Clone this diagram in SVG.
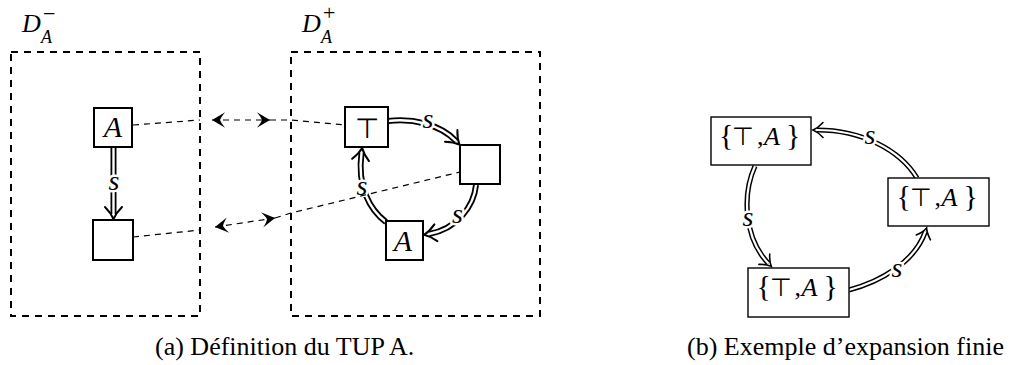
<svg xmlns="http://www.w3.org/2000/svg" width="1013" height="365" viewBox="0 0 1013 365">
<style>
.frame{fill:none;stroke:#000;stroke-width:2;stroke-dasharray:7 6}
.na rect{fill:#fff;stroke:#000;stroke-width:2}
.nb rect{fill:#fff;stroke:#000;stroke-width:1.4}
.mi{font-family:"Liberation Serif",serif;font-style:italic}
.up{font-family:"Liberation Serif",serif}
.sym{font-family:"DejaVu Sans",sans-serif;font-weight:200}
.dao{fill:none;stroke:#000;stroke-width:6;marker-end:url(#impA)}
.dai{fill:none;stroke:#fff;stroke-width:2.4}
.dbo{fill:none;stroke:#000;stroke-width:5.2;marker-end:url(#impB)}
.dbi{fill:none;stroke:#fff;stroke-width:2.2}
.lbl{font-family:"Liberation Serif",serif;font-style:italic;font-size:28px;text-anchor:middle;paint-order:stroke;stroke:#fff;stroke-width:5;stroke-linejoin:round}
.dash{fill:none;stroke:#000;stroke-width:1.2;stroke-dasharray:6 5}
.arr{marker-start:url(#stl);marker-end:url(#stl)}
.cap{font-family:"Liberation Serif",serif;font-size:26px}
</style>
<defs>
<marker id="impA" markerUnits="userSpaceOnUse" markerWidth="30" markerHeight="30" viewBox="-15 -15 30 30" refX="0" refY="0" orient="auto" overflow="visible">
<path d="M-7,-8.5 Q-1,-2.5 5,0 Q-1,2.5 -7,8.5" fill="none" stroke="#000" stroke-width="2" stroke-linecap="round"/>
</marker>
<marker id="impB" markerUnits="userSpaceOnUse" markerWidth="30" markerHeight="30" viewBox="-15 -15 30 30" refX="0" refY="0" orient="auto" overflow="visible">
<path d="M-6,-7.5 Q-1,-2 4,0 Q-1,2 -6,7.5" fill="none" stroke="#000" stroke-width="1.6" stroke-linecap="round"/>
</marker>
<marker id="stl" markerUnits="userSpaceOnUse" markerWidth="20" markerHeight="20" viewBox="-12 -8 16 16" refX="0" refY="0" orient="auto-start-reverse" overflow="visible">
<path d="M0,0 L-10.5,-6.2 Q-7,-2 -6.5,0 Q-7,2 -10.5,6.2 Z" fill="#000"/>
</marker>
</defs>
<rect width="1013" height="365" fill="#fff"/>

<g id="frame-minus">
<rect class="frame" x="11" y="52" width="189" height="264"/>
<text class="mi" x="22" y="32" font-size="26">D</text>
<text class="mi" x="41" y="43" font-size="18">A</text>
<text class="up" x="43" y="21" font-size="22">−</text>
</g>
<g id="frame-plus">
<rect class="frame" x="291" y="52" width="249" height="264"/>
<text class="mi" x="302" y="32" font-size="26">D</text>
<text class="mi" x="321" y="43" font-size="18">A</text>
<text class="up" x="323" y="20" font-size="22">+</text>
</g>

<g id="connectors">
<g id="e-left">
<path class="dao" d="M113.5,147 L113.5,214"/><path class="dai" d="M113.5,147 L113.5,214"/>
<text class="lbl" x="114" y="190">s</text>
</g>
<g id="e-top-right">
<path class="dao" d="M388,121 C412,118 440,124 456,141"/><path class="dai" d="M388,121 C412,118 440,124 456,141"/>
<text class="lbl" x="428" y="128">s</text>
</g>
<g id="e-right-a">
<path class="dao" d="M476,185 C474,206 457,229 429,234"/><path class="dai" d="M476,185 C474,206 457,229 429,234"/>
<text class="lbl" x="457.5" y="223">s</text>
</g>
<g id="e-a-top">
<path class="dao" d="M386,222 C370,210 357,187 361.5,153"/><path class="dai" d="M386,222 C370,210 357,187 361.5,153"/>
<text class="lbl" x="362" y="195">s</text>
</g>
<g id="link1">
<path class="dash" d="M133,125 L200,120"/>
<path class="dash arr" d="M212,120 L270,120"/>
<path class="dash" d="M270,120 L291,120 L345,125"/>
</g>
<g id="link2">
<path class="dash" d="M133,237 L200,230"/>
<path class="dash arr" d="M215,227 L275,218"/>
<path class="dash" d="M275,218 L291,213 L460,172"/>
</g>
<g id="b1">
<path class="dbo" d="M755,166 C742,195 744,238 768.5,263.5"/><path class="dbi" d="M755,166 C742,195 744,238 768.5,263.5"/>
<text class="lbl" x="748" y="226">s</text>
</g>
<g id="b2">
<path class="dbo" d="M849,290 C880,282 915,262 925.3,231.7"/><path class="dbi" d="M849,290 C880,282 915,262 925.3,231.7"/>
<text class="lbl" x="897" y="277">s</text>
</g>
<g id="b3">
<path class="dbo" d="M917,178 C900,150 862,130 817,130"/><path class="dbi" d="M917,178 C900,150 862,130 817,130"/>
<text class="lbl" x="870" y="144">s</text>
</g>
</g>

<g id="n-a-left" class="na"><rect x="94" y="108" width="38" height="39"/><text class="mi" x="113" y="137" font-size="30" text-anchor="middle">A</text></g>
<g id="n-empty-left" class="na"><rect x="93" y="220" width="40" height="40"/></g>
<g id="n-top" class="na"><rect x="345" y="107" width="43" height="40"/><text class="sym" x="366.5" y="138" font-size="28" text-anchor="middle">⊤</text></g>
<g id="n-empty-right" class="na"><rect x="460" y="145" width="40" height="39"/></g>
<g id="n-a-bottom" class="na"><rect x="386" y="221" width="37" height="39"/><text class="mi" x="403" y="251" font-size="30" text-anchor="middle">A</text></g>

<g id="b-n1" class="nb"><rect x="711" y="117" width="100" height="48"/>
<text transform="translate(722,145)"><tspan class="up" x="-3" font-size="30">{</tspan><tspan class="sym" x="10" font-size="25">⊤</tspan><tspan class="up" x="35" font-size="26">,</tspan><tspan class="mi" x="42" font-size="26">A</tspan><tspan class="up" x="64" font-size="30">}</tspan></text></g>
<g id="b-n2" class="nb"><rect x="888" y="178" width="101" height="48"/>
<text transform="translate(899.5,206)"><tspan class="up" x="-3" font-size="30">{</tspan><tspan class="sym" x="10" font-size="25">⊤</tspan><tspan class="up" x="35" font-size="26">,</tspan><tspan class="mi" x="42" font-size="26">A</tspan><tspan class="up" x="64" font-size="30">}</tspan></text></g>
<g id="b-n3" class="nb"><rect x="748" y="268" width="101" height="49"/>
<text transform="translate(759.5,296)"><tspan class="up" x="-3" font-size="30">{</tspan><tspan class="sym" x="10" font-size="25">⊤</tspan><tspan class="up" x="35" font-size="26">,</tspan><tspan class="mi" x="42" font-size="26">A</tspan><tspan class="up" x="64" font-size="30">}</tspan></text></g>

<g id="captions">
<text class="cap" x="155" y="355">(a) Définition du TUP A.</text>
<text class="cap" x="687" y="355">(b) Exemple d’expansion finie</text>
</g>
</svg>
